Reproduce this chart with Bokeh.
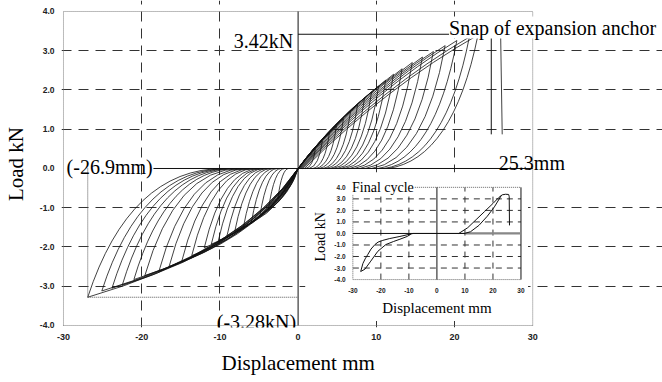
import numpy as np
from bokeh.plotting import figure
from bokeh.models import Range1d, FixedTicker, Label, Title
from bokeh.embed import file_html
from bokeh.resources import INLINE
from bokeh.core.properties import value

# ---------------- data ----------------
x_ticks = [-30, -20, -10, 0, 10, 20, 30]
x_tick_labels = ["-30", "-20", "-10", "0", "10", "20", "30"]
y_ticks = [-4, -3, -2, -1, 0, 1, 2, 3, 4]
y_tick_labels = ["-4.0", "-3.0", "-2.0", "-1.0", "0.0", "1.0", "2.0", "3.0", "4.0"]
x_lim = [-30, 30]
y_lim = [-4, 4]
grid_x = [-20, -10, 10, 20]
grid_y = [-3, -2, -1, 1, 2, 3]

# positive half cycles: peak, and displacement where each branch is at zero load
pos_peak_disp = [23.0, 21.9, 20.3, 18.8, 17.3, 15.9, 14.6, 13.3, 12.2, 11.2,
                 10.3, 9.4, 8.5, 7.6, 6.7, 5.8, 4.9, 4.0, 3.1, 2.2]
pos_peak_load = [3.40, 3.35, 3.26, 3.13, 2.98, 2.84, 2.70, 2.54, 2.40, 2.25,
                 2.10, 1.95, 1.80, 1.62, 1.45, 1.27, 1.08, 0.90, 0.70, 0.50]
pos_upper_zero = [0.8, 0.6, 0.5, 0.4, 0.3, 0.2, 0.1, 0.0, 0.0, 0.0,
                  0.0, 0.0, 0.0, 0.0, 0.0, 0.0, 0.0, 0.0, 0.0, 0.0]
pos_lower_zero = [11.5, 11.0, 10.2, 9.4, 8.6, 7.9, 7.2, 6.6, 6.0, 5.5,
                  5.0, 4.5, 4.1, 3.6, 3.2, 2.7, 2.3, 1.9, 1.4, 1.0]

# negative half cycles
neg_peak_disp = [-26.9, -25.1, -23.8, -22.5, -21.0, -19.6, -17.8, -16.5, -14.9, -13.6,
                 -12.0, -11.1, -10.2, -9.1, -8.1, -7.0, -6.0, -4.9, -3.8, -2.6]
neg_peak_load = [-3.28, -3.12, -3.05, -2.98, -2.83, -2.73, -2.62, -2.50, -2.38, -2.22,
                 -2.02, -1.93, -1.84, -1.72, -1.60, -1.50, -1.40, -1.22, -1.05, -0.78]
neg_upper_zero = [-9.5, -9.0, -8.6, -8.2, -7.8, -7.3, -6.8, -6.3, -5.8, -5.4,
                  -4.9, -4.5, -4.2, -3.8, -3.4, -3.0, -2.6, -2.1, -1.7, -1.2]
neg_lower_zero = [0.0] * 20

# final peak plateau and snap of the anchor
snap_disp = [23.0, 24.0, 25.0, 25.9, 26.1]
snap_load = [3.40, 3.42, 3.42, 3.40, 0.87]
peak_load = 3.42
snap_marker_disp = 24.7
snap_marker_low = 0.87
min_disp = -26.9
min_load = -3.28
axis_line_from = -18.5   # zero-load line starts after the "(-26.9mm)" note

# inset: final cycle
fin_pos_a_disp = [7.8, 11.0, 14.0, 17.0, 20.0, 22.0, 23.3, 24.5, 25.6, 25.8, 25.9]
fin_pos_a_load = [0.0, 0.5, 1.2, 1.9, 2.6, 3.1, 3.35, 3.40, 3.38, 3.20, 0.70]
fin_pos_b_disp = [9.9, 12.0, 15.0, 18.0, 20.5, 22.0, 23.0]
fin_pos_b_load = [0.0, 0.15, 0.7, 1.5, 2.3, 2.9, 3.3]
fin_neg_a_disp = [-8.5, -13.2, -17.0, -19.3, -21.0, -22.1, -23.5, -24.6, -25.6, -26.4, -27.2]
fin_neg_a_load = [0.0, -0.26, -0.45, -0.6, -0.75, -0.96, -1.35, -1.8, -2.2, -2.6, -3.3]
fin_neg_b_disp = [-27.2, -25.7, -23.6, -21.1, -18.2, -15.5, -13.2, -10.5, -9.0]
fin_neg_b_load = [-3.3, -3.1, -2.4, -1.55, -0.96, -0.7, -0.5, -0.25, 0.0]
fin_zero_disp = [-8.5, 9.9]
inset_x_ticks = [-30, -20, -10, 0, 10, 20, 30]
inset_x_labels = ["-30", "-20", "-10", "0", "10", "20", "30"]
inset_y_ticks = [4, 3, 2, 1, 0, -1, -2, -3, -4]
inset_y_labels = ["4.0", "3.0", "2.0", "1.0", "0.0", "-1.0", "-2.0", "-3.0", "-4.0"]
inset_grid_x = [-20, -10, 10, 20]
inset_grid_y = [-3, -2, -1, 1, 2, 3]

# ---------------- figure ----------------
INK = "#111111"
# the frame reaches the window's right and top edges so that the notes are not clipped;
# the plotted box itself is drawn at x_lim / y_lim
p = figure(width=662, height=382, x_range=Range1d(-30.255, 46.596), y_range=Range1d(-4.051, 4.280),
           output_backend="svg", toolbar_location=None,
           min_border_left=60, min_border_right=0, min_border_top=0, min_border_bottom=55)
p.background_fill_color = "white"
p.border_fill_color = "white"
p.outline_line_color = None

p.xaxis.ticker = FixedTicker(ticks=x_ticks)
p.xaxis.major_label_overrides = {t: s for t, s in zip(x_ticks, x_tick_labels)}
p.yaxis.ticker = FixedTicker(ticks=y_ticks)
p.yaxis.major_label_overrides = {t: s for t, s in zip(y_ticks, y_tick_labels)}
p.yaxis.axis_label = "Load kN"
for ax in (p.xaxis[0], p.yaxis[0]):
    ax.axis_line_color = None
    ax.major_tick_line_color = None
    ax.minor_tick_line_color = None
    ax.major_tick_out = 0
    ax.major_tick_in = 0
    ax.major_label_text_font = "Liberation Sans"
    ax.major_label_text_font_style = "bold"
    ax.major_label_text_color = "#222222"
    ax.axis_label_text_font = "Liberation Serif"
    ax.axis_label_text_font_style = "normal"
    ax.axis_label_text_font_size = "21px"
    ax.axis_label_text_color = "black"
p.yaxis.major_label_text_font_size = "8.5px"
p.xaxis.major_label_text_font_size = "9px"
p.yaxis.major_label_standoff = 7
p.xaxis.major_label_standoff = 6
p.yaxis.axis_label_standoff = 9

# x-axis title centred under the plotted box (x = 0), not under the widened frame
p.add_layout(Title(text="Displacement mm", align="left", offset=160, standoff=12,
                   vertical_align="bottom",
                   text_font="Liberation Serif", text_font_style="normal",
                   text_font_size="21px", text_color="black"), "below")

p.xgrid.ticker = FixedTicker(ticks=grid_x)
p.ygrid.ticker = FixedTicker(ticks=grid_y)
p.xgrid.bounds = tuple(y_lim)
p.ygrid.bounds = tuple(x_lim)
p.grid.grid_line_color = "#333333"
p.grid.grid_line_dash = "10 7"
p.grid.grid_line_width = 1

# plot box (dotted) and zero axes
p.multi_line(xs=[[x_lim[0], x_lim[0]], [x_lim[1], x_lim[1]], list(x_lim), list(x_lim)],
             ys=[list(y_lim), list(y_lim), [y_lim[0], y_lim[0]], [y_lim[1], y_lim[1]]],
             line_color="#777777", line_width=1, line_dash="1 1")
p.line([0, 0], y_lim, line_color=INK, line_width=1)
p.line([axis_line_from, x_lim[1]], [0, 0], line_color=INK, line_width=1)

# hysteresis loops
pd_, pl_ = np.array(pos_peak_disp), np.array(pos_peak_load)
nd_, nl_ = np.array(neg_peak_disp), np.array(neg_peak_load)
LW = 0.8
p.quadratic(x0=pos_upper_zero, y0=0, x1=pd_, y1=pl_, cx=pd_ * 0.5, cy=pl_ * 0.62,
            line_color=INK, line_width=LW)
p.quadratic(x0=pos_lower_zero, y0=0, x1=pd_, y1=pl_, cx=pd_ * 0.86, cy=pl_ * 0.07,
            line_color=INK, line_width=LW)
p.quadratic(x0=neg_upper_zero, y0=0, x1=nd_, y1=nl_, cx=nd_ * 0.8, cy=0,
            line_color=INK, line_width=LW)
p.quadratic(x0=neg_lower_zero, y0=0, x1=nd_, y1=nl_, cx=nd_ * 0.28, cy=nl_ * 0.66,
            line_color=INK, line_width=LW)
p.line(snap_disp, snap_load, line_color=INK, line_width=LW)

# annotation lines
p.segment(x0=[0, snap_marker_disp], y0=[peak_load, peak_load],
          x1=[snap_marker_disp, snap_marker_disp], y1=[peak_load, snap_marker_low],
          line_color=INK, line_width=1)
p.segment(x0=[min_disp, min_disp], y0=[0, min_load], x1=[min_disp, 0], y1=[min_load, min_load],
          line_color="#555555", line_width=1, line_dash="1 1")

# ---------------- inset (final cycle) ----------------
ins = p.subplot(x_source=Range1d(-30, 30), y_source=Range1d(-4, 4),
                x_target=Range1d(7.0, 28.5), y_target=Range1d(-2.83, -0.48))
ins.quad(left=-47, right=32.5, bottom=-7.6, top=5.3, fill_color="white", line_color=None)
ins.multi_line(xs=[[x, x] for x in inset_grid_x] + [[-30, 30] for _ in inset_grid_y],
               ys=[[-4, 4] for _ in inset_grid_x] + [[y, y] for y in inset_grid_y],
               line_color="#333333", line_width=1, line_dash="6 5")
ins.multi_line(xs=[[-30, -30, 30], [-30, 30]], ys=[[4, -4, -4], [4, 4]],
               line_color="#666666", line_width=1, line_dash="1 1")
ins.line([30, 30], [-4, 4], line_color=INK, line_width=1)
ins.line([0, 0], [-4, 4], line_color=INK, line_width=1)
ins.line([-30, 30], [0, 0], line_color=INK, line_width=1)
ins.line([10, 30], [0, 0], line_color="#888888", line_width=2.2)
for xs, ys in ((fin_pos_a_disp, fin_pos_a_load), (fin_pos_b_disp, fin_pos_b_load),
               (fin_neg_a_disp, fin_neg_a_load), (fin_neg_b_disp, fin_neg_b_load),
               (fin_zero_disp, [0, 0])):
    ins.line(xs, ys, line_color=INK, line_width=1)
ins.text(x=[-32.6] * len(inset_y_ticks), y=inset_y_ticks, text=inset_y_labels,
         text_align="right", text_baseline="middle", text_font=value("Liberation Sans"),
         text_font_style="bold", text_font_size="6.5px", text_color="#222222")
ins.text(x=inset_x_ticks, y=[-4.95] * len(inset_x_ticks), text=inset_x_labels,
         text_align="center", text_baseline="middle", text_font=value("Liberation Sans"),
         text_font_style="bold", text_font_size="6.5px", text_color="#222222")
ins.text(x=[-30.3], y=[4.0], text=["Final cycle"], text_align="left", text_baseline="alphabetic",
         text_font=value("Liberation Serif"), text_font_size="14px", text_color="black",
         background_fill_color="white")
ins.text(x=[0], y=[-6.5], text=["Displacement mm"], text_align="center", text_baseline="middle",
         text_font=value("Liberation Serif"), text_font_size="15px", text_color="black")
ins.text(x=[-41.5], y=[-0.3], text=["Load kN"], angle=np.pi / 2, text_align="center",
         text_baseline="middle", text_font=value("Liberation Serif"), text_font_size="14px",
         text_color="black")

# ---------------- text annotations ----------------
def label(x, y, text, align="left", bg=None):
    p.add_layout(Label(x=x, y=y, text=text, text_align=align, text_baseline="alphabetic",
                       text_font="Liberation Serif", text_font_size="20px", text_color="black",
                       background_fill_color=bg))

label(19.3, 3.59, "Snap of expansion anchor", bg="white")
label(-0.64, 3.26, "3.42kN", align="right")
label(-29.6, 0.05, "(-26.9mm)")
label(25.67, 0.15, "25.3mm")
label(-0.25, -3.9, "(-3.28kN)", align="right")

open("out.html", "w").write(file_html(p, INLINE))
